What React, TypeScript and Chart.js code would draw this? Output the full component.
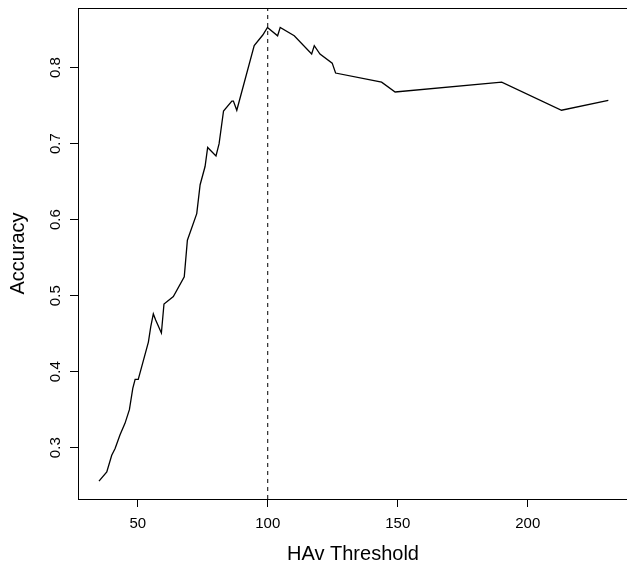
import { useEffect, useRef } from "react";
import { Chart, registerables } from "chart.js";

Chart.register(...registerables);

const thresholds = [
  35.1, 38.1, 40.0, 41.3, 43.2, 45.1, 46.8, 48.1, 49.0, 50.2, 54.1, 55.0, 56.0,
  56.9, 59.1, 60.1, 63.7, 67.9, 69.1, 72.7, 74.0, 75.9, 76.9, 80.1, 81.3, 83.0,
  86.2, 86.8, 88.1, 94.8, 98.1, 99.9, 103.8, 104.8, 110.2, 116.9, 117.9, 120.1,
  124.8, 126.1, 143.8, 149.0, 190.0, 213.0, 231.0,
];
const accuracy = [
  0.256, 0.268, 0.29, 0.299, 0.317, 0.332, 0.35, 0.378, 0.39, 0.39, 0.439, 0.459,
  0.476, 0.468, 0.451, 0.489, 0.499, 0.525, 0.573, 0.608, 0.646, 0.67, 0.695,
  0.684, 0.7, 0.743, 0.756, 0.756, 0.744, 0.829, 0.843, 0.853, 0.842, 0.853,
  0.842, 0.818, 0.829, 0.818, 0.806, 0.793, 0.781, 0.768, 0.781, 0.744, 0.757,
];
const xTicks = [50, 100, 150, 200];
const xTickLabels = ["50", "100", "150", "200"];
const yTicks = [0.3, 0.4, 0.5, 0.6, 0.7, 0.8];
const yTickLabels = ["0.3", "0.4", "0.5", "0.6", "0.7", "0.8"];
const cutoff = 100;
const xRange = [27.03, 238.18];
const yRange = [0.2325, 0.87855];
const xTitle = "HAv Threshold";
const yTitle = "Accuracy";

const FONT = '"Liberation Sans", Arial, Helvetica, sans-serif';

export default function App() {
  const ref = useRef<HTMLCanvasElement>(null);

  useEffect(() => {
    document.body.style.margin = "0";
    document.body.style.background = "#fff";
    const canvas = ref.current;
    if (!canvas) return;

    const rBase = {
      id: "rBase",
      afterDraw(chart: any) {
        const { ctx, chartArea: a, scales } = chart;
        const xs = scales.x;
        const ys = scales.y;
        ctx.save();
        ctx.strokeStyle = "#000";
        ctx.lineWidth = 1;
        ctx.strokeRect(a.left + 0.5, a.top + 0.5, a.right - a.left + 3, a.bottom - a.top);
        ctx.fillStyle = "#000";
        ctx.font = `15px ${FONT}`;
        ctx.textAlign = "center";
        ctx.textBaseline = "alphabetic";
        xTicks.forEach((v, i) => {
          ctx.fillText(xTickLabels[i], xs.getPixelForValue(v), a.bottom + 29);
        });
        yTicks.forEach((v, i) => {
          const py = ys.getPixelForValue(v);
          ctx.save();
          ctx.translate(a.left - 18, py);
          ctx.rotate(-Math.PI / 2);
          ctx.fillText(yTickLabels[i], 0, 0);
          ctx.restore();
        });
        ctx.font = `20px ${FONT}`;
        ctx.fillText(xTitle, (a.left + a.right + 1) / 2, a.bottom + 61);
        ctx.save();
        ctx.translate(a.left - 54, (a.top + a.bottom) / 2);
        ctx.rotate(-Math.PI / 2);
        ctx.fillText(yTitle, 0, 0);
        ctx.restore();
        ctx.restore();
      },
    };

    const chart = new Chart(canvas, {
      type: "line",
      data: {
        datasets: [
          {
            data: thresholds.map((t, i) => ({ x: t, y: accuracy[i] })),
            borderColor: "#000",
            borderWidth: 1.3,
            pointRadius: 0,
            tension: 0,
            fill: false,
          },
          {
            data: [
              { x: cutoff, y: yRange[0] },
              { x: cutoff, y: yRange[1] },
            ],
            borderColor: "#000",
            borderWidth: 1,
            borderDash: [4, 4],
            pointRadius: 0,
            fill: false,
          },
        ],
      },
      plugins: [rBase],
      options: {
        animation: false,
        responsive: false,
        devicePixelRatio: 1,
        layout: { padding: { left: 0, right: 0, top: 8, bottom: 0 } },
        plugins: {
          legend: { display: false },
          tooltip: { enabled: false },
        },
        scales: {
          x: {
            type: "linear",
            min: xRange[0],
            max: xRange[1],
            afterBuildTicks: (s: any) => {
              s.ticks = xTicks.map((v) => ({ value: v }));
            },
            afterFit: (s: any) => {
              s.height = 65;
            },
            ticks: { display: false },
            border: { display: false },
            grid: {
              display: true,
              drawOnChartArea: false,
              drawTicks: true,
              tickLength: 8,
              color: "#000",
              lineWidth: 1,
            },
          },
          y: {
            type: "linear",
            min: yRange[0],
            max: yRange[1],
            afterBuildTicks: (s: any) => {
              s.ticks = yTicks.map((v) => ({ value: v }));
            },
            afterFit: (s: any) => {
              s.width = 78;
            },
            ticks: { display: false },
            border: { display: false },
            grid: {
              display: true,
              drawOnChartArea: false,
              drawTicks: true,
              tickLength: 8,
              color: "#000",
              lineWidth: 1,
            },
          },
        },
      },
    } as any);

    return () => chart.destroy();
  }, []);

  return <canvas ref={ref} width={627} height={564} style={{ display: "block" }} />;
}
